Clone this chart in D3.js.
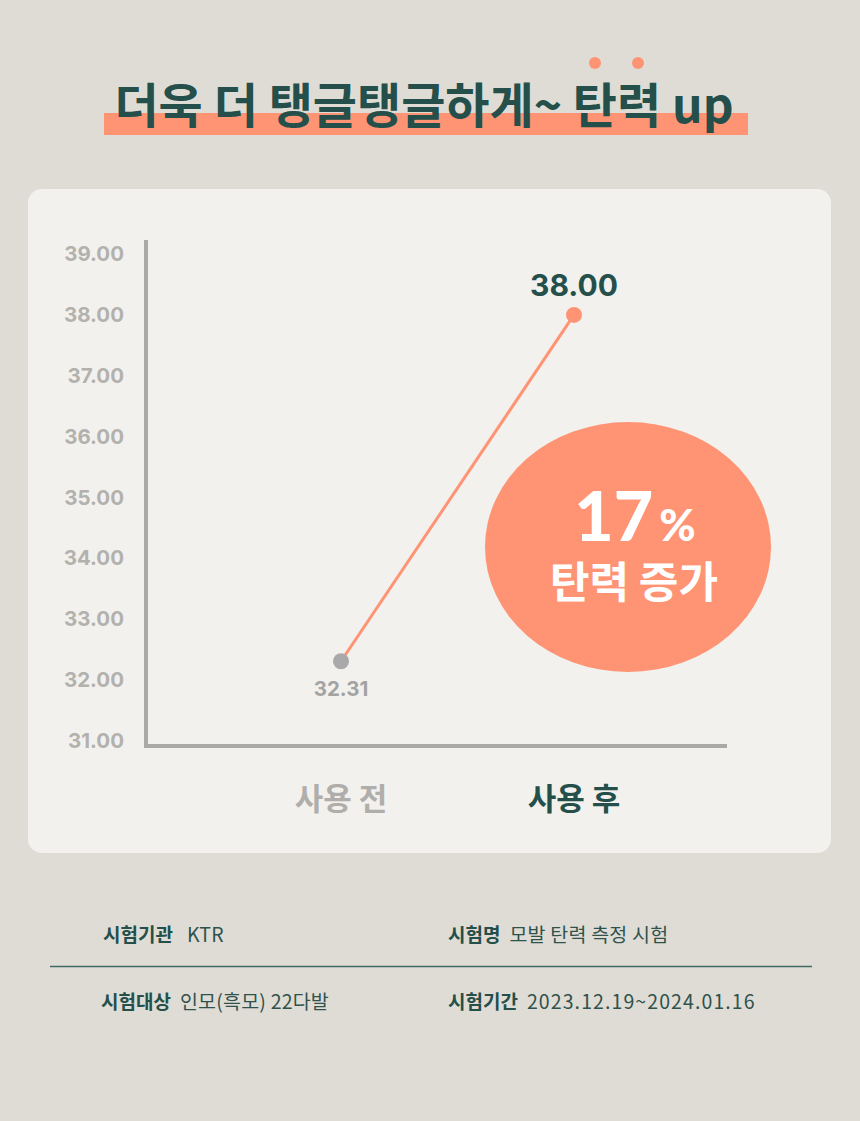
<!DOCTYPE html>
<html><head><meta charset="utf-8">
<script src="https://cdn.jsdelivr.net/npm/d3@7"></script>
<style>
html,body{margin:0;padding:0;background:#dfdcd5;}
svg{display:block;}
</style></head>
<body>
<svg id="chart" width="860" height="1121"></svg>
<script>
const categories = ["사용 전", "사용 후"];
const values = [32.31, 38.00];
const valueLabels = ["32.31", "38.00"];
const yTicks = [31, 32, 33, 34, 35, 36, 37, 38, 39];
const titleText = "더욱 더 탱글탱글하게~ 탄력 up";
const badgeBig = "17";
const badgeUnit = "%";
const badgeSub = "탄력 증가";
const infoLabels = ["시험기관", "시험명", "시험대상", "시험기간"];
const infoValues = ["KTR", "모발 탄력 측정 시험", "인모(흑모) 22다발", "2023.12.19~2024.01.16"];

const TEAL = "#244f4a", CORAL = "#ff9475", GRAY = "#aaa9a7";
const KR = "'Noto Sans CJK KR', 'Noto Sans', sans-serif";
const NUM = "Inter, Lato, sans-serif";
const BADGE = "Lato, sans-serif";

const svg = d3.select("#chart");
svg.append("rect").attr("width", 860).attr("height", 1121).attr("fill", "#dfdcd5");

// title
svg.append("rect").attr("x", 104).attr("y", 113).attr("width", 644).attr("height", 22).attr("fill", CORAL);
svg.selectAll("circle.dot").data([595, 638]).join("circle").attr("class", "dot")
  .attr("cx", d => d).attr("cy", 63).attr("r", 6).attr("fill", CORAL);
svg.append("text").attr("x", 424).attr("y", 123).attr("text-anchor", "middle")
  .attr("font-family", KR).attr("font-weight", 700).attr("font-size", 48).attr("fill", TEAL)
  .text(titleText);

// card
svg.append("rect").attr("x", 28).attr("y", 189).attr("width", 803).attr("height", 664).attr("rx", 14).attr("fill", "#f2f1ed");

// scales
const y = d3.scaleLinear().domain([31, 39]).range([741, 254]);
const x = d3.scalePoint().domain(categories).range([341, 574]);

// y axis labels
const yAxis = d3.axisLeft(y).tickValues(yTicks).tickFormat(d3.format(".2f")).tickSize(0).tickPadding(22);
const gy = svg.append("g").attr("transform", "translate(146,0)").call(yAxis);
gy.select(".domain").remove();
gy.selectAll("text").attr("font-family", NUM).attr("font-weight", 700).attr("font-size", 20.5).attr("fill", "#b3b1ae");

// axis lines
svg.append("path").attr("d", "M146,240V746H727").attr("fill", "none").attr("stroke", GRAY).attr("stroke-width", 4);

// badge
svg.append("ellipse").attr("cx", 628).attr("cy", 547).attr("rx", 143).attr("ry", 125).attr("fill", CORAL);
const big = svg.append("text").attr("x", 635).attr("y", 541).attr("text-anchor", "middle").attr("fill", "#fff")
  .attr("font-family", BADGE).attr("font-weight", 900);
big.append("tspan").attr("font-size", 68).text(badgeBig);
big.append("tspan").attr("font-size", 44).attr("dx", 6).text(badgeUnit);
svg.append("text").attr("x", 634).attr("y", 598).attr("text-anchor", "middle").attr("fill", "#fff")
  .attr("font-family", KR).attr("font-weight", 700).attr("font-size", 43).text(badgeSub);

// line
const data = categories.map((c, i) => ({c, v: values[i], label: valueLabels[i]}));
svg.append("path").datum(data)
  .attr("d", d3.line().x(d => x(d.c)).y(d => y(d.v)))
  .attr("fill", "none").attr("stroke", CORAL).attr("stroke-width", 3);
svg.selectAll("circle.pt").data(data).join("circle").attr("class", "pt")
  .attr("cx", d => x(d.c)).attr("cy", d => y(d.v)).attr("r", 8)
  .attr("fill", (d, i) => i === 0 ? "#a9a9a9" : CORAL);
svg.selectAll("text.vl").data(data).join("text").attr("class", "vl")
  .attr("x", d => x(d.c)).attr("y", (d, i) => i === 0 ? y(d.v) + 35 : y(d.v) - 19)
  .attr("text-anchor", "middle").attr("font-family", NUM).attr("font-weight", 700)
  .attr("font-size", (d, i) => i === 0 ? 20.5 : 30)
  .attr("fill", (d, i) => i === 0 ? "#a3a3a3" : TEAL).text(d => d.label);

// x labels
svg.selectAll("text.xl").data(categories).join("text").attr("class", "xl")
  .attr("x", d => x(d)).attr("y", 810).attr("text-anchor", "middle")
  .attr("font-family", KR).attr("font-weight", 700).attr("font-size", 31)
  .attr("fill", (d, i) => i === 0 ? "#b0aeab" : TEAL).text(d => d);

// footer
const pos = [[103, 942], [448, 942], [101, 1009], [448, 1009]];
infoLabels.forEach((l, i) => {
  const t = svg.append("text").attr("x", pos[i][0]).attr("y", pos[i][1]).attr("font-family", KR).attr("font-size", 19).attr("fill", TEAL);
  t.append("tspan").attr("font-weight", 700).text(l);
  t.append("tspan").attr("font-weight", 400).attr("font-size", 19.5).attr("dx", i === 0 ? 14 : 9)
    .attr("letter-spacing", i === 3 ? 1.1 : 0.2).attr("fill", "#2f524c").text(infoValues[i]);
});
svg.append("line").attr("x1", 50).attr("x2", 812).attr("y1", 966.5).attr("y2", 966.5).attr("stroke", "#3f6b64").attr("stroke-width", 1.3);
</script>
</body></html>
